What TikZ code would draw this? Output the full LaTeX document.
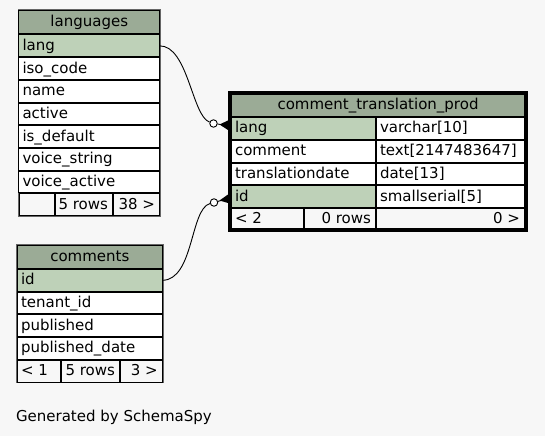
\documentclass[tikz,border=0pt]{standalone}
\usepackage{fontspec}
\setmainfont{DejaVu Sans}
\newcommand\dvfont{\fontsize{15bp}{18bp}\selectfont}
\definecolor{bgc}{HTML}{F7F7F7}
\definecolor{hdrc}{HTML}{9BAB96}
\definecolor{keyc}{HTML}{BED1B8}
\definecolor{outc}{HTML}{666666}
\tikzset{
  cellsty/.style={draw=black, line width=1bp, rectangle, inner sep=0pt, outer sep=0pt},
  txt/.style={inner sep=0pt, outer sep=0pt, font=\dvfont, text=black},
  optcirc/.style={circle, draw=black, fill=white, line width=0.9bp, minimum size=7.5bp, inner sep=0pt},
  conn/.style={draw=black, line width=0.9bp},
}
% name, x, y, w, h, fill
\newcommand\cbox[6]{\node[cellsty,fill=#6,minimum width={#4bp-1bp},minimum height={#5bp-1bp}] (#1) at ({#2+#4/2},{#3+#5/2}) {};}
% name, x(left), y(top), h, text
\newcommand\ltxt[5]{\node[txt,anchor=base west] (#1) at ({#2+4},{#3+#4/2+4.5}) {#5};}
% name, x(right), y(top), h, text
\newcommand\rtxt[5]{\node[txt,anchor=base east] (#1) at ({#2-5},{#3+#4/2+4.5}) {#5};}
% name, x(center), y(top), h, text
\newcommand\ctxt[5]{\node[txt,anchor=base] (#1) at ({#2},{#3+#4/2+4.5}) {#5};}
\begin{document}
\begin{tikzpicture}[x=1bp,y=-1bp]
\fill[bgc] (0,0) rectangle (545,436);
\useasboundingbox (0,0) rectangle (545,436);

% ---------- languages ----------
\draw[outc, line width=1bp] (18,9.5) rectangle (160.5,216.5);
\cbox{lgh}{18.5}{10}{141.5}{24.5}{hdrc}
\ctxt{lght}{89.25}{10}{24.5}{languages}
\cbox{lg1}{18.5}{34.5}{141.5}{22.7}{keyc}
\ltxt{lg1t}{18.5}{34.5}{22.7}{lang}
\cbox{lg2}{18.5}{57.2}{141.5}{22.7}{white}
\ltxt{lg2t}{18.5}{57.2}{22.7}{iso\_code}
\cbox{lg3}{18.5}{79.9}{141.5}{22.7}{white}
\ltxt{lg3t}{18.5}{79.9}{22.7}{name}
\cbox{lg4}{18.5}{102.6}{141.5}{22.7}{white}
\ltxt{lg4t}{18.5}{102.6}{22.7}{active}
\cbox{lg5}{18.5}{125.3}{141.5}{22.7}{white}
\ltxt{lg5t}{18.5}{125.3}{22.7}{is\_default}
\cbox{lg6}{18.5}{148}{141.5}{22.7}{white}
\ltxt{lg6t}{18.5}{148}{22.7}{voice\_string}
\cbox{lg7}{18.5}{170.7}{141.5}{22.7}{white}
\ltxt{lg7t}{18.5}{170.7}{22.7}{voice\_active}
\cbox{lgf1}{18.5}{193.4}{36.5}{22.7}{bgc}
\cbox{lgf2}{55}{193.4}{58}{22.7}{bgc}
\rtxt{lgf2t}{113}{193.4}{22.7}{5 rows}
\cbox{lgf3}{113}{193.4}{47}{22.7}{bgc}
\rtxt{lgf3t}{160}{193.4}{22.7}{38 >}

% ---------- comments ----------
\draw[outc, line width=1bp] (16.5,244.5) rectangle (163.2,382.9);
\cbox{cmh}{17}{245}{145.7}{24}{hdrc}
\ctxt{cmht}{89.85}{245}{24}{comments}
\cbox{cm1}{17}{269}{145.7}{22.7}{keyc}
\ltxt{cm1t}{17}{269}{22.7}{id}
\cbox{cm2}{17}{291.7}{145.7}{22.7}{white}
\ltxt{cm2t}{17}{291.7}{22.7}{tenant\_id}
\cbox{cm3}{17}{314.4}{145.7}{22.7}{white}
\ltxt{cm3t}{17}{314.4}{22.7}{published}
\cbox{cm4}{17}{337.1}{145.7}{22.7}{white}
\ltxt{cm4t}{17}{337.1}{22.7}{published\_date}
\cbox{cmf1}{17}{359.8}{44}{22.7}{bgc}
\ltxt{cmf1t}{17}{359.8}{22.7}{< 1}
\cbox{cmf2}{61}{359.8}{59}{22.7}{bgc}
\rtxt{cmf2t}{120}{359.8}{22.7}{5 rows}
\cbox{cmf3}{120}{359.8}{42.7}{22.7}{bgc}
\rtxt{cmf3t}{162.7}{359.8}{22.7}{3 >}

% ---------- comment_translation_prod ----------
\cbox{ctph}{231}{94}{294}{23}{hdrc}
\ctxt{ctpht}{378}{94}{23}{comment\_translation\_prod}
\cbox{ctp1a}{231}{117}{145}{23}{keyc}
\ltxt{ctp1at}{231}{117}{23}{lang}
\cbox{ctp1b}{376}{117}{149}{23}{white}
\ltxt{ctp1bt}{376}{117}{23}{varchar[10]}
\cbox{ctp2a}{231}{140}{145}{23}{white}
\ltxt{ctp2at}{231}{140}{23}{comment}
\cbox{ctp2b}{376}{140}{149}{23}{white}
\ltxt{ctp2bt}{376}{140}{23}{text[2147483647]}
\cbox{ctp3a}{231}{163}{145}{22.5}{white}
\ltxt{ctp3at}{231}{163}{22.5}{translationdate}
\cbox{ctp3b}{376}{163}{149}{22.5}{white}
\ltxt{ctp3bt}{376}{163}{22.5}{date[13]}
\cbox{ctp4a}{231}{185.5}{145}{22.5}{keyc}
\ltxt{ctp4at}{231}{185.5}{22.5}{id}
\cbox{ctp4b}{376}{185.5}{149}{22.5}{white}
\ltxt{ctp4bt}{376}{185.5}{22.5}{smallserial[5]}
\cbox{ctpf1}{231}{208}{73}{21.5}{bgc}
\ltxt{ctpf1t}{231}{208}{21.5}{< 2}
\cbox{ctpf2}{304}{208}{72}{21.5}{bgc}
\rtxt{ctpf2t}{376}{208}{21.5}{0 rows}
\cbox{ctpf3}{376}{208}{149}{21.5}{bgc}
\rtxt{ctpf3t}{525}{208}{21.5}{0 >}
\draw[black, line width=3bp] (229.5,92.5) rectangle (526.5,230.5);

% ---------- connectors ----------
\node[optcirc] (o1) at (213.5,123.5) {};
\coordinate (k1) at (228,125.5);
\draw[conn] (lg1.east) .. controls (188,45.5) and (192,116) .. (o1);
\draw[conn] (o1) -- (k1);
\fill[black] (219.5,124.5) -- (228,120.5) -- (228,130) -- cycle;

\node[optcirc] (o2) at (214,202.5) {};
\coordinate (k2) at (228,198.5);
\draw[conn] (cm1.east) .. controls (194,280) and (190,209) .. (o2);
\draw[conn] (o2) -- (k2);
\fill[black] (219.5,200.5) -- (228,194.5) -- (228,203) -- cycle;

% ---------- caption ----------
\node[txt, anchor=base west] (cap) at (16,421) {Generated by SchemaSpy};
\end{tikzpicture}
\end{document}
